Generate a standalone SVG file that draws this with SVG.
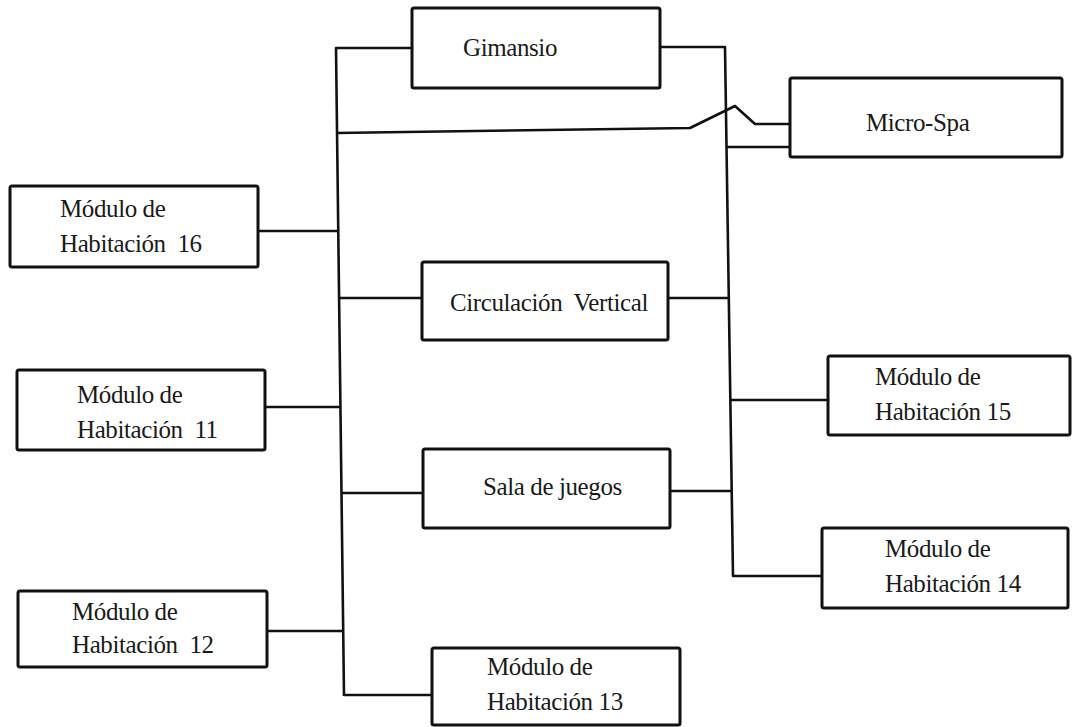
<svg xmlns="http://www.w3.org/2000/svg" width="1073" height="727" viewBox="0 0 1073 727">
<style>
.box{fill:#fff;stroke:#111;stroke-width:3;}
.con{fill:none;stroke:#111;stroke-width:2.6;stroke-linejoin:round;}
.lbl{font-family:"Liberation Serif","Times New Roman",Tinos,Times,serif;font-size:25px;fill:#1a1a1a;letter-spacing:-0.4px;}
</style>
<rect width="1073" height="727" fill="#fff"/>
<g id="connectors">
<polyline class="con" points="412,48 336,48 344,696"/>
<polyline class="con" points="660,47 725,47 733,576 822,576"/>
<polyline class="con" points="336,133 690,128 735,106 755,124 790,124"/>
<line class="con" x1="726" y1="147" x2="790" y2="147"/>
<line class="con" x1="258" y1="231" x2="338" y2="231"/>
<line class="con" x1="339" y1="298" x2="422" y2="298"/>
<line class="con" x1="668" y1="298" x2="728" y2="298"/>
<line class="con" x1="265" y1="407" x2="340" y2="407"/>
<line class="con" x1="730" y1="400" x2="828" y2="400"/>
<line class="con" x1="342" y1="493" x2="423" y2="493"/>
<line class="con" x1="670" y1="491" x2="731" y2="491"/>
<line class="con" x1="267" y1="631" x2="343" y2="631"/>
<line class="con" x1="344" y1="695" x2="432" y2="695"/>
</g>
<g id="gimnasio">
<rect class="box" x="412" y="8" width="248" height="80" rx="2"/>
<text class="lbl" x="463" y="56">Gimansio</text>
</g>
<g id="microspa">
<rect class="box" x="790" y="78" width="272" height="79" rx="2"/>
<text class="lbl" x="866" y="131">Micro-Spa</text>
</g>
<g id="hab16">
<rect class="box" x="10" y="186" width="248" height="81" rx="2"/>
<text class="lbl" x="60" y="217">M&#243;dulo de</text>
<text class="lbl" x="60" y="252" xml:space="preserve">Habitaci&#243;n  16</text>
</g>
<g id="circulacion">
<rect class="box" x="422" y="262" width="246" height="78" rx="2"/>
<text class="lbl" x="450" y="311" xml:space="preserve">Circulaci&#243;n  Vertical</text>
</g>
<g id="hab11">
<rect class="box" x="17" y="370" width="248" height="80" rx="2"/>
<text class="lbl" x="77" y="403">M&#243;dulo de</text>
<text class="lbl" x="77" y="438" xml:space="preserve">Habitaci&#243;n  11</text>
</g>
<g id="hab15">
<rect class="box" x="828" y="356" width="242" height="79" rx="2"/>
<text class="lbl" x="875" y="385">M&#243;dulo de</text>
<text class="lbl" x="875" y="420">Habitaci&#243;n 15</text>
</g>
<g id="sala">
<rect class="box" x="423" y="449" width="247" height="79" rx="2"/>
<text class="lbl" x="483" y="495">Sala de juegos</text>
</g>
<g id="hab14">
<rect class="box" x="822" y="528" width="246" height="80" rx="2"/>
<text class="lbl" x="885" y="557">M&#243;dulo de</text>
<text class="lbl" x="885" y="592">Habitaci&#243;n 14</text>
</g>
<g id="hab12">
<rect class="box" x="18" y="591" width="249" height="76" rx="2"/>
<text class="lbl" x="72" y="620">M&#243;dulo de</text>
<text class="lbl" x="72" y="653" xml:space="preserve">Habitaci&#243;n  12</text>
</g>
<g id="hab13">
<rect class="box" x="432" y="648" width="248" height="77" rx="2"/>
<text class="lbl" x="487" y="675">M&#243;dulo de</text>
<text class="lbl" x="487" y="710">Habitaci&#243;n 13</text>
</g>
</svg>
